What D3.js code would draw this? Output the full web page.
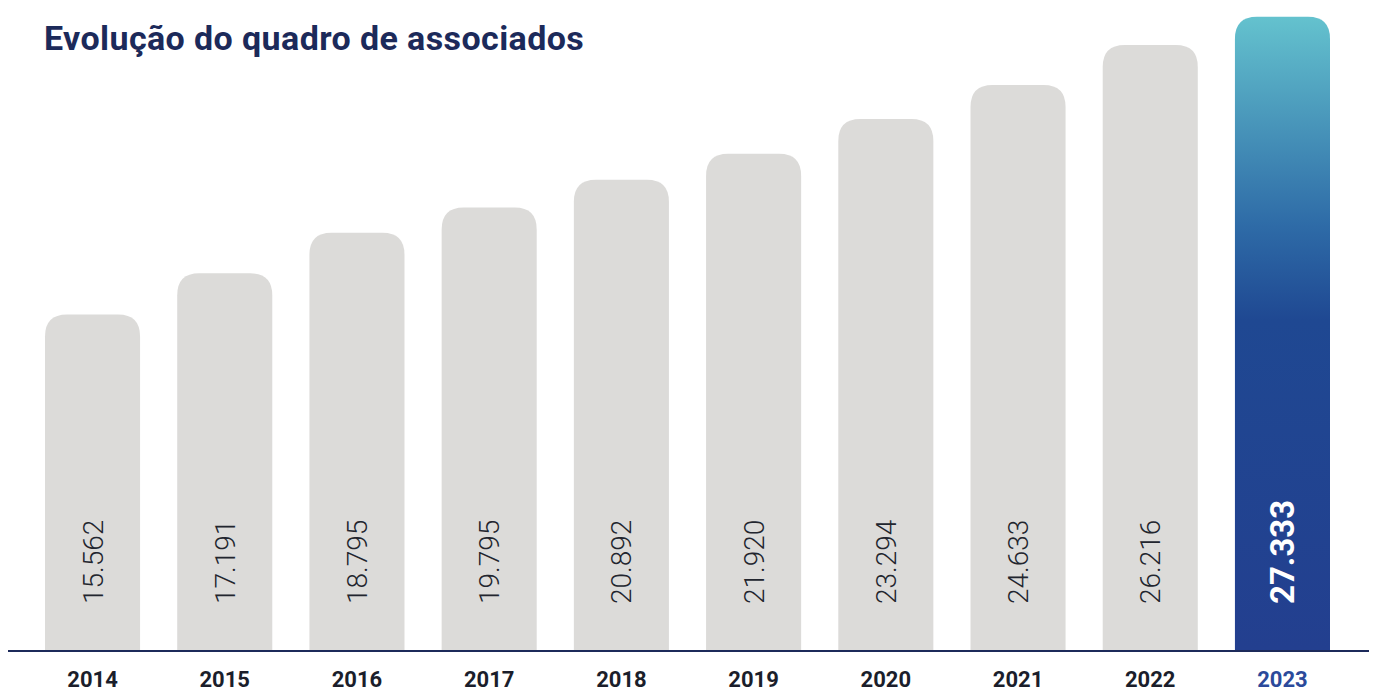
<!DOCTYPE html>
<head>
    <meta charset='utf-8'>
    <style>
        body {
            margin: 0;
            background: #fff;
            font-family: Roboto, 'Noto Sans', Arial, sans-serif;
        }
        .title {
            font-size: 34px;
            font-weight: 700;
            letter-spacing: 0.4px;
            fill: #1c2a5a;
        }
        .year {
            font-size: 22px;
            font-weight: 700;
            fill: #1b1e2b;
        }
        .val {
            font-size: 28px;
            font-weight: 300;
            fill: #22252e;
        }
    </style>
</head>

<body>
<div id='vis'></div>
<script src='https://cdn.jsdelivr.net/npm/d3@7/dist/d3.min.js'></script>
<script>
  const width = 1376, height = 694

  // dados
  const years = ['2014', '2015', '2016', '2017', '2018', '2019', '2020', '2021', '2022', '2023']
  const members = [15562, 17191, 18795, 19795, 20892, 21920, 23294, 24633, 26216, 27333]
  const labels = ['15.562', '17.191', '18.795', '19.795', '20.892', '21.920', '23.294', '24.633', '26.216', '27.333']
  const highlight = '2023'

  const data = years.map((y, i) => ({year: y, value: members[i], label: labels[i]}))

  const baseY = 650

  const svg = d3.select('#vis')
    .append('svg')
    .attr('width', width)
    .attr('height', height)

  const x = d3.scaleBand()
    .domain(years)
    .range([45, 1330])
    .paddingInner(0.281)
    .paddingOuter(0)

  // eixo y não começa em zero no original
  const y = d3.scaleLinear()
    .domain([2300, 27600])
    .range([baseY, 10])

  // gradiente da barra em destaque
  const grad = svg.append('defs').append('linearGradient')
    .attr('id', 'hl')
    .attr('x1', 0).attr('x2', 0).attr('y1', 0).attr('y2', 1)
  grad.selectAll('stop')
    .data([[0, '#64c2ce'], [0.33, '#2e6ba7'], [0.48, '#1f4892'], [1, '#233f8f']])
    .enter().append('stop')
    .attr('offset', d => d[0])
    .attr('stop-color', d => d[1])

  const r = 22
  function topRounded(x0, y0, w, h) {
    return `M${x0},${y0 + h} V${y0 + r} Q${x0},${y0} ${x0 + r},${y0} H${x0 + w - r} Q${x0 + w},${y0} ${x0 + w},${y0 + r} V${y0 + h} Z`
  }

  svg.append('text')
    .attr('class', 'title')
    .attr('x', 44)
    .attr('y', 50)
    .text('Evolução do quadro de associados')

  svg.selectAll('.bar')
    .data(data)
    .enter()
    .append('path')
    .attr('class', 'bar')
    .attr('d', d => topRounded(x(d.year), y(d.value), x.bandwidth(), baseY - y(d.value)))
    .attr('fill', d => d.year === highlight ? 'url(#hl)' : '#dcdbd9')

  svg.selectAll('.val')
    .data(data)
    .enter()
    .append('text')
    .attr('class', 'val')
    .attr('transform', d => `translate(${x(d.year) + x.bandwidth() / 2}, 604) rotate(-90)`)
    .attr('dy', '0.36em')
    .style('fill', d => d.year === highlight ? '#fff' : null)
    .style('font-weight', d => d.year === highlight ? 700 : null)
    .style('font-size', d => d.year === highlight ? '33px' : null)
    .text(d => d.label)

  svg.append('line')
    .attr('x1', 8).attr('x2', 1369)
    .attr('y1', baseY + 1).attr('y2', baseY + 1)
    .attr('stroke', '#1c2a5a')
    .attr('stroke-width', 2)

  svg.selectAll('.year')
    .data(data)
    .enter()
    .append('text')
    .attr('class', 'year')
    .attr('x', d => x(d.year) + x.bandwidth() / 2)
    .attr('y', 687)
    .attr('text-anchor', 'middle')
    .style('fill', d => d.year === highlight ? '#2b4a9b' : null)
    .text(d => d.year)
</script>
</body>
